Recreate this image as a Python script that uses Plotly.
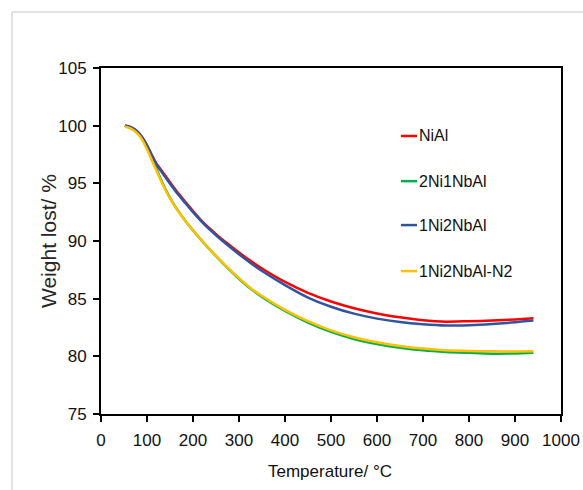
import plotly.graph_objects as go

temps = [52, 60, 70, 80, 90, 100, 110, 120, 130, 140, 150, 160, 170, 180, 190, 200, 225, 250, 275, 300,
         325, 350, 400, 450, 500, 550, 600, 650, 700, 750, 800, 850, 900, 940]

nial = [100.0, 99.93, 99.75, 99.45, 98.95, 98.3, 97.5, 96.75, 96.2, 95.65, 95.1, 94.55, 94.05, 93.55,
        93.07, 92.6, 91.5, 90.6, 89.78, 89.0, 88.28, 87.62, 86.45, 85.5, 84.75, 84.17, 83.72, 83.38,
        83.12, 83.0, 83.05, 83.1, 83.2, 83.3]
ni2nb1 = [100.0, 99.88, 99.68, 99.35, 98.85, 98.08, 97.18, 96.28, 95.36, 94.5, 93.74, 93.08, 92.48, 91.93,
          91.4, 90.92, 89.76, 88.68, 87.67, 86.73, 85.87, 85.15, 83.93, 82.93, 82.12, 81.5, 81.07, 80.75,
          80.52, 80.38, 80.3, 80.23, 80.25, 80.3]
ni1nb2 = [100.0, 99.95, 99.77, 99.47, 98.97, 98.3, 97.45, 96.65, 96.08, 95.52, 94.97, 94.43, 93.93, 93.44,
          92.97, 92.5, 91.42, 90.5, 89.65, 88.85, 88.1, 87.4, 86.18, 85.1, 84.3, 83.7, 83.27, 82.97,
          82.78, 82.67, 82.7, 82.8, 82.95, 83.1]
ni1nb2_n2 = [99.9, 99.82, 99.62, 99.28, 98.75, 97.95, 97.05, 96.15, 95.25, 94.42, 93.69, 93.05, 92.47, 91.93,
             91.41, 90.93, 89.78, 88.71, 87.71, 86.78, 85.93, 85.23, 84.03, 83.05, 82.25, 81.65, 81.22, 80.9,
             80.67, 80.52, 80.46, 80.43, 80.42, 80.43]

names = ["NiAl", "2Ni1NbAl", "1Ni2NbAl", "1Ni2NbAl-N2"]
series = [nial, ni2nb1, ni1nb2, ni1nb2_n2]
colors = ["#ff0000", "#00b050", "#2f55a0", "#ffc000"]

x_ticks = [0, 100, 200, 300, 400, 500, 600, 700, 800, 900, 1000]
y_ticks = [75, 80, 85, 90, 95, 100, 105]

font = "Liberation Sans, Arial, sans-serif"

fig = go.Figure()
for name, vals, col in zip(names, series, colors):
    fig.add_trace(go.Scatter(x=temps, y=vals, mode="lines", name=name,
                             line=dict(color=col, width=2.5, shape="spline", smoothing=0.7),
                             showlegend=False))

# manual legend (short line samples as in the reference)
leg_y = [0.8035, 0.673, 0.546, 0.413]
for name, col, ly in zip(names, colors, leg_y):
    fig.add_shape(type="line", xref="paper", yref="paper", x0=0.652, x1=0.687, y0=ly, y1=ly,
                  line=dict(color=col, width=2.5))
    fig.add_annotation(xref="paper", yref="paper", x=0.686, y=ly, text=name, showarrow=False,
                       xanchor="left", yanchor="middle", font=dict(family=font, size=16, color="#111111"))

# axis titles
fig.add_annotation(xref="paper", yref="paper", x=(48 - 101) / 460, y=0.5, text="Weight lost/ %",
                   textangle=-90, showarrow=False, xanchor="center", yanchor="middle",
                   font=dict(family=font, size=21, color="#262626"))
fig.add_annotation(xref="paper", yref="paper", x=(330 - 101) / 460, y=(414 - 471) / 346,
                   text="Temperature/ °C", showarrow=False, xanchor="center", yanchor="middle",
                   font=dict(family=font, size=17, color="#111111"))

# outer light border (top and left)
fig.add_shape(type="line", xref="paper", yref="paper", x0=(12 - 101) / 460, x1=(583 - 101) / 460,
              y0=(414 - 12) / 346, y1=(414 - 12) / 346, line=dict(color="#d9d9d9", width=1.5))
fig.add_shape(type="line", xref="paper", yref="paper", x0=(12 - 101) / 460, x1=(12 - 101) / 460,
              y0=(414 - 12) / 346, y1=(414 - 490) / 346, line=dict(color="#d9d9d9", width=1.5))

axis_common = dict(showgrid=False, zeroline=False, showline=True, linecolor="black", linewidth=2,
                   mirror=True, ticks="outside", ticklen=6, tickwidth=1.5, tickcolor="black",
                   tickfont=dict(family=font, size=17, color="#111111"), automargin=False)

fig.update_layout(
    width=583, height=490,
    margin=dict(l=101, r=22, t=68, b=76),
    paper_bgcolor="white", plot_bgcolor="white",
    xaxis=dict(range=[0, 1000], tickvals=x_ticks, ticktext=[str(v) for v in x_ticks],
               ticklabelstandoff=4, **axis_common),
    yaxis=dict(range=[75, 105], tickvals=y_ticks, ticktext=[str(v) for v in y_ticks],
               ticklabelstandoff=3, **axis_common),
)

fig.write_html("out.html", config={"displayModeBar": False},
               post_script="document.body.style.margin='0px';")
